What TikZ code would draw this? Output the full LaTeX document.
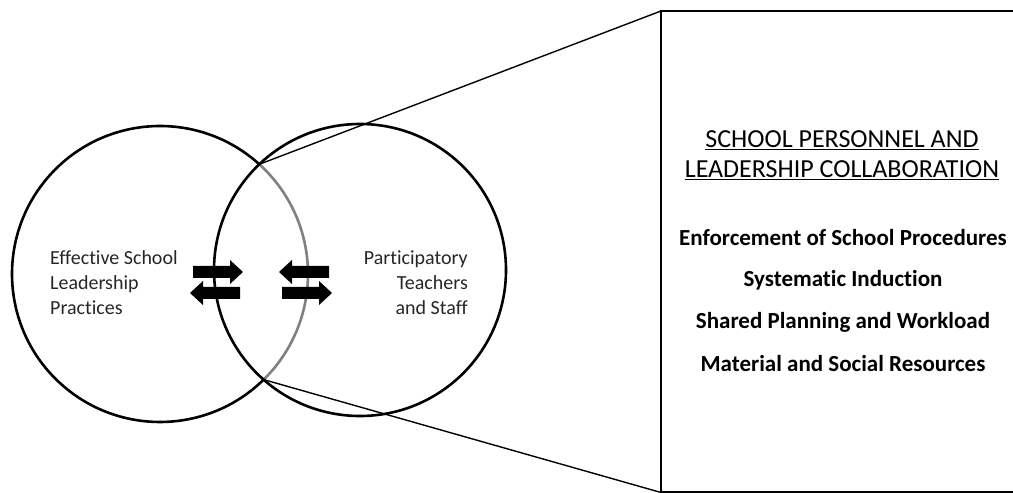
\documentclass[tikz,border=0pt]{standalone}
\usepackage{fontspec}
\setmainfont{Carlito}[Ligatures=NoCommon]
\begin{document}
\begin{tikzpicture}[x=1pt, y=1pt, >=latex,
    ring/.style={line width=2.6pt},
    link/.style={line width=1.4pt},
    sidetext/.style={text=black!85, font=\fontsize{20}{25}\selectfont, inner sep=0pt},
    listtext/.style={font=\bfseries\fontsize{23}{28}\selectfont, inner sep=0pt}]

\useasboundingbox (0,0) rectangle (1013,493);

% the two circles, the inner part of the left one in grey
\draw[ring] (160,219) ++(47.85:148) arc (47.85:314.45:148);
\draw[ring, gray] (160,219) ++(-45.55:148) arc (-45.55:47.85:148);
\draw[ring] (360,223) circle (146);

\coordinate (top) at (259.3,328.7);
\coordinate (bot) at (263.6,113.4);
\coordinate (boxnw) at (661,482);
\coordinate (boxsw) at (661,0.5);

% box on the right and the two lines to it
\draw[line width=2pt] (1020,482) -- (boxnw) -- (boxsw) -- (1020,0.5);
\draw[link] (top) -- (boxnw);
\draw[link] (bot) -- (boxsw);

% block arrows
\foreach \x/\y/\d in {193/221/1, 240/200/-1, 329/221/-1, 282/200/1}
{
    \fill[shift={(\x,\y)}, xscale=\d] (0,6) -- (37,6) -- (37,12) -- (50,0) -- (37,-12) -- (37,-6) -- (0,-6) -- cycle;
}

\node[sidetext, align=left, anchor=west] (lead) at (50,210) {Effective School\\Leadership\\Practices};
\node[sidetext, align=right, anchor=east] (staff) at (468,210) {Participatory\\Teachers\\and Staff};

\node[font=\fontsize{26}{30}\selectfont, align=center, inner sep=0pt] (title) at (842,338)
    {\underline{SCHOOL PERSONNEL AND}\\\underline{LEADERSHIP COLLABORATION}};

\foreach \t [count=\i] in {Enforcement of School Procedures, Systematic Induction,
    Shared Planning and Workload, Material and Social Resources}
{
    \node[listtext] (item\i) at (843,297-42*\i) {\t};
}

\end{tikzpicture}
\end{document}
